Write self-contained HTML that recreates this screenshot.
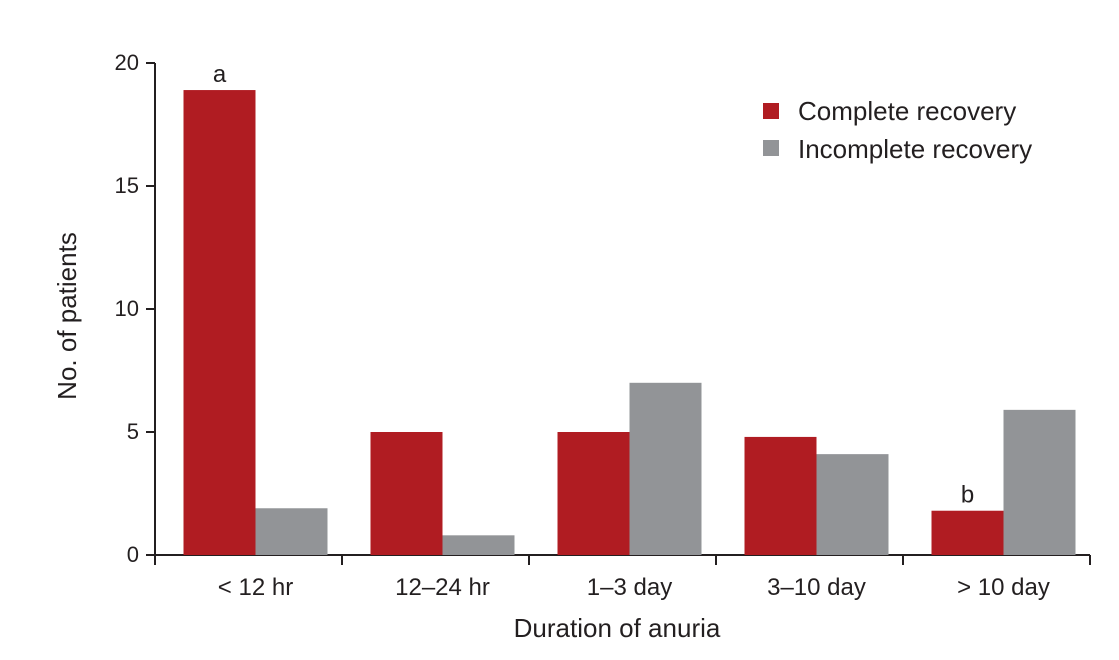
<!DOCTYPE html>
<html><head><meta charset="utf-8"><style>
html,body{margin:0;padding:0;background:#fff;}
svg{display:block;font-family:"Liberation Sans",sans-serif;}
</style></head><body>
<svg id="chart" width="1119" height="660" viewBox="0 0 1119 660">
<g id="axes"></g>
<g id="bars"></g>
<g>
<rect x="763" y="103" width="16" height="16" fill="#b01c22"/>
<text x="798" y="120" font-size="26" fill="#231f20">Complete recovery</text>
<rect x="763" y="140" width="16" height="16" fill="#929497"/>
<text x="798" y="158" font-size="26" fill="#231f20">Incomplete recovery</text>
</g>
<text x="617" y="637" font-size="26" text-anchor="middle" fill="#231f20">Duration of anuria</text>
<text transform="translate(76,316) rotate(-90)" font-size="26" text-anchor="middle" fill="#231f20">No. of patients</text>
</svg>
<script>
const categories = ["< 12 hr","12\u201324 hr","1\u20133 day","3\u201310 day","> 10 day"];
const complete = [18.9, 5.0, 5.0, 4.8, 1.8];
const incomplete = [1.9, 0.8, 7.0, 4.1, 5.9];
const yTicks = [0, 5, 10, 15, 20];
const annotations = ["a", "", "", "", "b"];

const NS = "http://www.w3.org/2000/svg";
const x0 = 155, bandW = 187, y0 = 555, yTop = 63, yMax = 20, barW = 72;
const yScale = v => y0 - (v / yMax) * (y0 - yTop);
const bandStart = i => x0 + i * bandW;
function mk(tag, attrs, parent){const e=document.createElementNS(NS,tag);for(const k in attrs)e.setAttribute(k,attrs[k]);parent.appendChild(e);return e;}
const axes = document.getElementById('axes'), bars = document.getElementById('bars');
const xEnd = bandStart(categories.length);

let ya = mk('line',{x1:x0,y1:yTop,x2:x0,y2:y0,stroke:'#231f20','stroke-width':2},axes);


let xa = mk('line',{x1:x0-1,y1:y0,x2:xEnd,y2:y0,stroke:'#231f20','stroke-width':2},axes);



yTicks.forEach(t=>{
  const y=yScale(t);
  const l=mk('line',{x1:x0-9,y1:y,x2:x0,y2:y,stroke:'#231f20','stroke-width':2},axes);
  
  
  const tx=mk('text',{x:x0-16,y:y+7,'font-size':22,'text-anchor':'end',fill:'#231f20'},axes);
  tx.textContent=t;
  
  
});
for(let i=0;i<=categories.length;i++){
  const x=bandStart(i);
  const l=mk('line',{x1:x,y1:y0,x2:x,y2:y0+10,stroke:'#231f20','stroke-width':2},axes);
  
  
}
categories.forEach((c,i)=>{
  const cx=bandStart(i)+bandW/2+7;
  const tx=mk('text',{x:cx,y:595,'font-size':24,'text-anchor':'middle',fill:'#231f20'},axes);
  tx.textContent=c;
  
  
  const r1=mk('rect',{x:cx-barW,y:yScale(complete[i]),width:barW,height:y0-yScale(complete[i]),fill:'#b01c22'},bars);
  
  
  const r2=mk('rect',{x:cx,y:yScale(incomplete[i]),width:barW,height:y0-yScale(incomplete[i]),fill:'#929497'},bars);
  
  
  if(annotations[i]){
    const a=mk('text',{x:cx-barW/2,y:yScale(complete[i])-8,'font-size':24,'text-anchor':'middle',fill:'#231f20'},bars);
    a.textContent=annotations[i];
    
    
  }
});
</script>
</body></html>
